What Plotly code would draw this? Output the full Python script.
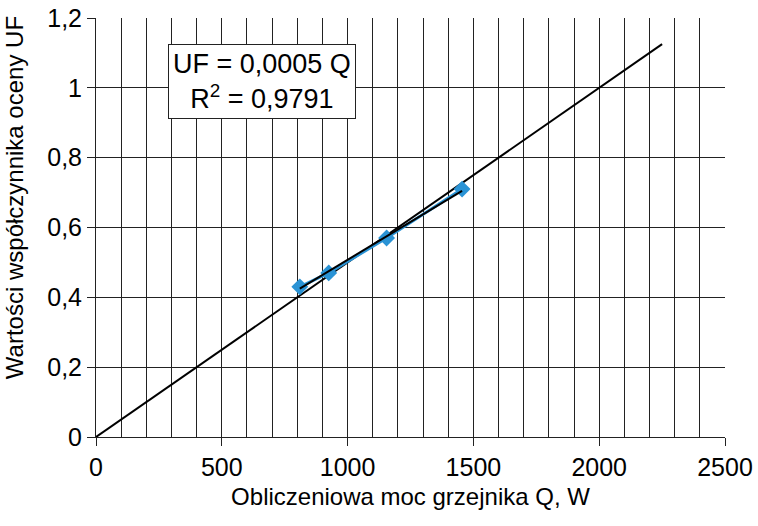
import plotly.graph_objects as go

# Data
q_values = [810, 925, 1155, 1455]
uf_values = [0.43, 0.47, 0.57, 0.71]
trend_x = [0, 2250]
slope = 0.0005
local_fit_x = [810, 1455]
local_fit_y = [0.425, 0.705]

FONT = "Liberation Sans, Arial, sans-serif"

fig = go.Figure()
fig.add_trace(go.Scatter(x=trend_x, y=[slope * v for v in trend_x], mode="lines",
                         line=dict(color="black", width=2), showlegend=False, hoverinfo="skip"))
fig.add_trace(go.Scatter(x=q_values, y=uf_values, mode="lines+markers",
                         line=dict(color="#2a93d5", width=3),
                         marker=dict(symbol="diamond", size=13, color="#2a93d5"),
                         showlegend=False))
fig.add_trace(go.Scatter(x=local_fit_x, y=local_fit_y, mode="lines",
                         line=dict(color="black", width=2), showlegend=False, hoverinfo="skip"))

fig.add_annotation(x=660, y=1.017, xref="x", yref="y",
                   text="UF = 0,0005 Q<br>R<sup>2</sup> = 0,9791", showarrow=False,
                   font=dict(family=FONT, size=27, color="black"),
                   bordercolor="#222", borderwidth=1, bgcolor="white", borderpad=4, align="center")

# y-axis title placed as rotated text (shifted upward as in the reference)
fig.add_annotation(x=0, y=0.57, xref="paper", yref="paper", xanchor="center", yanchor="middle",
                   xshift=-82, text="Wartości współczynnika oceny UF", textangle=-90,
                   showarrow=False, font=dict(family=FONT, size=24, color="black"))

fig.update_layout(
    width=758, height=526,
    margin=dict(l=96, r=33, t=18, b=89, autoexpand=False),
    plot_bgcolor="white", paper_bgcolor="white",
    separators=", ",
    font=dict(family=FONT, size=25, color="black"),
    xaxis=dict(range=[0, 2500], dtick=500, tick0=0, showgrid=True, gridcolor="#222", gridwidth=1,
               minor=dict(dtick=100, showgrid=True, gridcolor="#222", gridwidth=1),
               ticks="outside", ticklen=8, tickcolor="#222", showline=True, linecolor="#222",
               zeroline=False, automargin=False,
               title=dict(text="Obliczeniowa moc grzejnika Q, W", standoff=8, font=dict(size=24)),
               tickfont=dict(size=25)),
    yaxis=dict(range=[0, 1.2], dtick=0.2, tick0=0, showgrid=True, gridcolor="#222", gridwidth=1,
               ticks="outside", ticklen=8, tickcolor="#222", showline=True, linecolor="#222",
               zeroline=False, automargin=False,
               tickfont=dict(size=25)),
)

fig.write_html("out.html")
